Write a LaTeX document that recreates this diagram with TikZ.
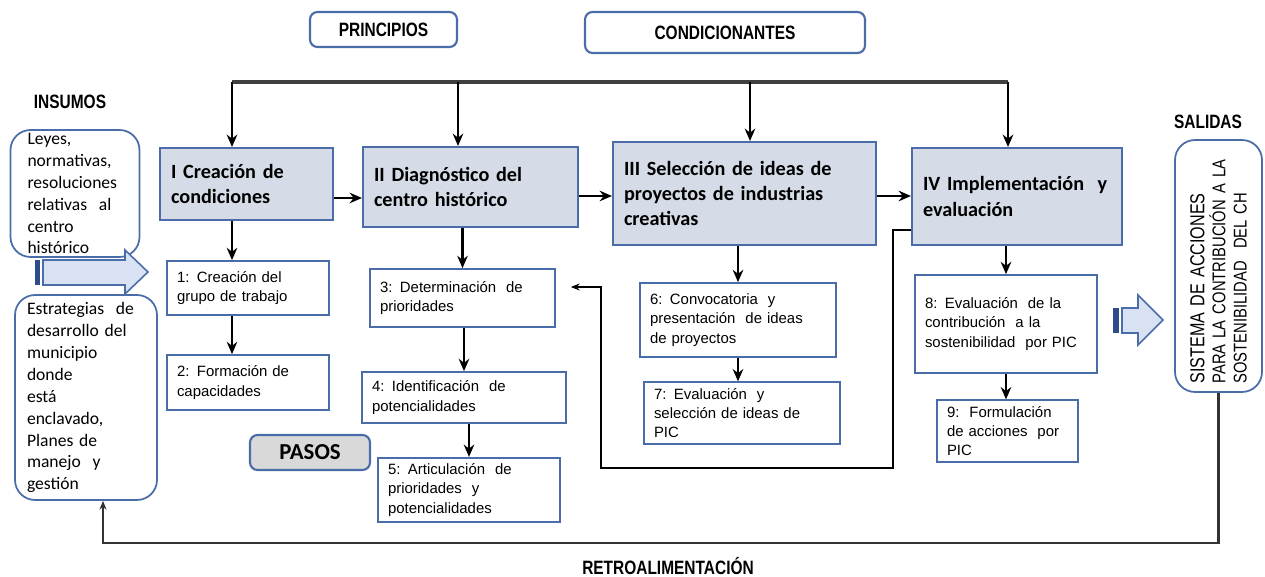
\documentclass[tikz,border=0pt]{standalone}
\usepackage{fontspec}
\setmainfont{Liberation Sans}
\newfontfamily\calfont{Carlito}
\newfontfamily\narrowfont[FakeStretch=0.8]{Liberation Sans}
\usetikzlibrary{arrows.meta}
\definecolor{boxblue}{HTML}{4A6CA8}
\definecolor{phasefill}{HTML}{D5DCE7}
\definecolor{pasosfill}{HTML}{D9D9D9}
\definecolor{arrowfill}{HTML}{D9E2F2}
\definecolor{arrowdark}{HTML}{2E4C8C}
\tikzset{
  phase/.style={draw=boxblue, fill=phasefill, line width=1.2pt, align=left, inner xsep=0.22cm,
    font=\calfont\bfseries\fontsize{11.5}{14.5}\selectfont},
  stepbox/.style={draw=boxblue, fill=white, line width=1pt, align=left, inner xsep=0.2cm,
    font=\fontsize{8.5}{11}\selectfont},
  roundbox/.style={draw=boxblue, rounded corners=0.15cm, line width=1.2pt},
  inbox/.style={draw=boxblue, rounded corners=0.4cm, line width=1pt, align=left, inner ysep=0pt,
    font=\calfont\fontsize{10}{12.5}\selectfont},
  headtext/.style={font=\narrowfont\bfseries\fontsize{11}{13}\selectfont},
  conn/.style={-{Stealth[length=7pt, width=6pt]}, line width=1.3pt},
  fbline/.style={-{Stealth[length=5pt, width=4pt]}, line width=0.9pt},
  busline/.style={line width=1.8pt, black!75},
  blockarrow/.style={draw=boxblue, fill=arrowfill, line width=0.9pt},
}
\begin{document}
\begin{tikzpicture}[x=0.02cm, y=-0.02cm]
  \useasboundingbox (0,0) rectangle (1265,577);
  % cabecera
  \node[roundbox, minimum width=2.94cm, minimum height=0.7cm, headtext] (princ) at (383.5,29.5) {PRINCIPIOS};
  \node[roundbox, minimum width=5.6cm, minimum height=0.82cm, headtext] (cond) at (725,32.5) {CONDICIONANTES};
  \node[headtext] (insumos) at (70,102) {INSUMOS};
  \node[headtext] (salidas) at (1208,122) {SALIDAS};
  \node[headtext] (retro) at (668,566) {RETROALIMENTACIÓN};
  % etapas
  \node[phase, text width=3.02cm, minimum height=1.44cm] (p1) at (246.5,184) {I Creación de\\condiciones};
  \node[phase, text width=3.86cm, minimum height=1.6cm] (p2) at (470.5,187) {II Diagnóstico del\\centro histórico};
  \node[phase, text width=4.82cm, minimum height=2.06cm] (p3) at (744.5,193.5) {III Selección de ideas de\\proyectos de industrias\\creativas};
  \node[phase, text width=3.76cm, minimum height=1.94cm] (p4) at (1017,196.5) {IV Implementación\ \ y\\evaluación};
  % pasos
  \node[stepbox, text width=2.84cm, minimum height=1.08cm] (s1) at (248,288) {1: Creación del\\grupo de trabajo};
  \node[stepbox, text width=2.84cm, minimum height=1.1cm] (s2) at (248,382.5) {2: Formación de\\capacidades};
  \node[stepbox, text width=3.3cm, minimum height=1.16cm] (s3) at (462.5,298) {3: Determinación\ \ de\\prioridades};
  \node[stepbox, text width=3.68cm, minimum height=1.02cm] (s4) at (464,397.5) {4: Identificación\ \ de\\potencialidades};
  \node[stepbox, text width=3.24cm, minimum height=1.24cm] (s5) at (469,490) {5: Articulación\ \ de\\prioridades\ \ y\\potencialidades};
  \node[stepbox, text width=3.52cm, minimum height=1.48cm] (s6) at (738,320) {6: Convocatoria\ \ y\\presentación\ \ de ideas\\de proyectos};
  \node[stepbox, text width=3.52cm, minimum height=1.16cm] (s7) at (742,413) {7: Evaluación\ \ y\\selección de ideas de\\PIC};
  \node[stepbox, text width=3.24cm, minimum height=1.96cm] (s8) at (1006,324) {8: Evaluación\ \ de la\\contribución\ \ a la\\sostenibilidad\ \ por PIC};
  \node[stepbox, text width=2.42cm, minimum height=1.16cm] (s9) at (1007.5,431) {9:\ \ Formulación\\de acciones\ \ por\\PIC};
  \node[roundbox, fill=pasosfill, minimum width=2.4cm, minimum height=0.7cm,
        font=\calfont\bfseries\fontsize{13}{15}\selectfont] (pasos) at (310,452.5) {PASOS};
  % insumos y salidas
  \node[inbox, text width=1.9cm, inner xsep=0.34cm, minimum height=2.54cm] (in1) at (75,193.5)
    {Leyes,\\normativas,\\resoluciones\\relativas\ \ al\\centro\\histórico};
  \node[inbox, text width=2.36cm, inner xsep=0.24cm, minimum height=4.1cm] (in2) at (86,397.5)
    {Estrategias\ \ de\\desarrollo del\\municipio\\donde\\está\\enclavado,\\Planes de\\manejo\ \ y\\gestión};
  \node[draw=boxblue, rounded corners=0.4cm, line width=1pt, minimum width=1.74cm, minimum height=5.04cm] (out) at (1218.5,266) {};
  \node[rotate=90, align=left, text width=4.7cm, font=\narrowfont\fontsize{10.5}{12}\selectfont] (outtxt) at (out.center)
    {{\fontsize{11.5}{12}\selectfont SISTEMA DE ACCIONES}\\PARA LA CONTRIBUCIÓN A LA\\SOSTENIBILIDAD\ \ DEL CH};
  % flechas de bloque
  \draw[blockarrow] (43,260) -- (125,260) -- (125,250) -- (148,272) -- (125,294) -- (125,285) -- (43,285) -- cycle;
  \fill[arrowdark] (35,260) rectangle (40,285);
  \draw[blockarrow] (1122,308) -- (1138,308) -- (1138,295) -- (1163,320) -- (1138,345) -- (1138,333) -- (1122,333) -- cycle;
  \fill[arrowdark] (1113,308) rectangle (1119,333);
  % conectores
  \coordinate (bus) at (0,82);
  \coordinate (t1) at ([xshift=-0.29cm]p1.north);
  \coordinate (t2) at ([xshift=-0.25cm]p2.north);
  \coordinate (t3) at ([xshift=0.11cm]p3.north);
  \coordinate (t4) at ([xshift=-0.18cm]p4.north);
  \draw[busline] (t1 |- bus) -- (t4 |- bus);
  \foreach \t in {t1, t2, t3, t4}
    \draw[conn] (\t |- bus) -- (\t);
  \coordinate (h1) at ([yshift=-0.28cm]p1.east);
  \coordinate (h2) at ([yshift=-0.18cm]p2.east);
  \coordinate (h3) at ([yshift=-0.05cm]p3.east);
  \draw[conn] (h1) -- (h1 -| p2.west);
  \draw[conn] (h2) -- (h2 -| p3.west);
  \draw[conn] (h3) -- (h3 -| p4.west);
  \foreach \a/\b/\c in {p1/s1/t1, s1/s2/t1, p2/s3/s3.north, s3/s4/s4.north, s4/s5/s5.north,
                        p3/s6/s6.north, s6/s7/s6.north, p4/s8/s8.north, s8/s9/s8.north}
    \draw[conn] (\c |- \a.south) -- (\c |- \b.north);
  \coordinate (fb) at (893,468);
  \draw[fbline] ([yshift=-0.67cm]p4.west) -| (fb) -| ([xshift=0.9cm,yshift=0.22cm]s3.east)
    -- ([xshift=0.3cm,yshift=0.22cm]s3.east);
  \coordinate (rb) at (1222,543);
  \draw[fbline, line width=1.3pt, black!80] (out.south) -- (out.south |- rb) -| ([xshift=0.34cm]in2.south);
\end{tikzpicture}
\end{document}
